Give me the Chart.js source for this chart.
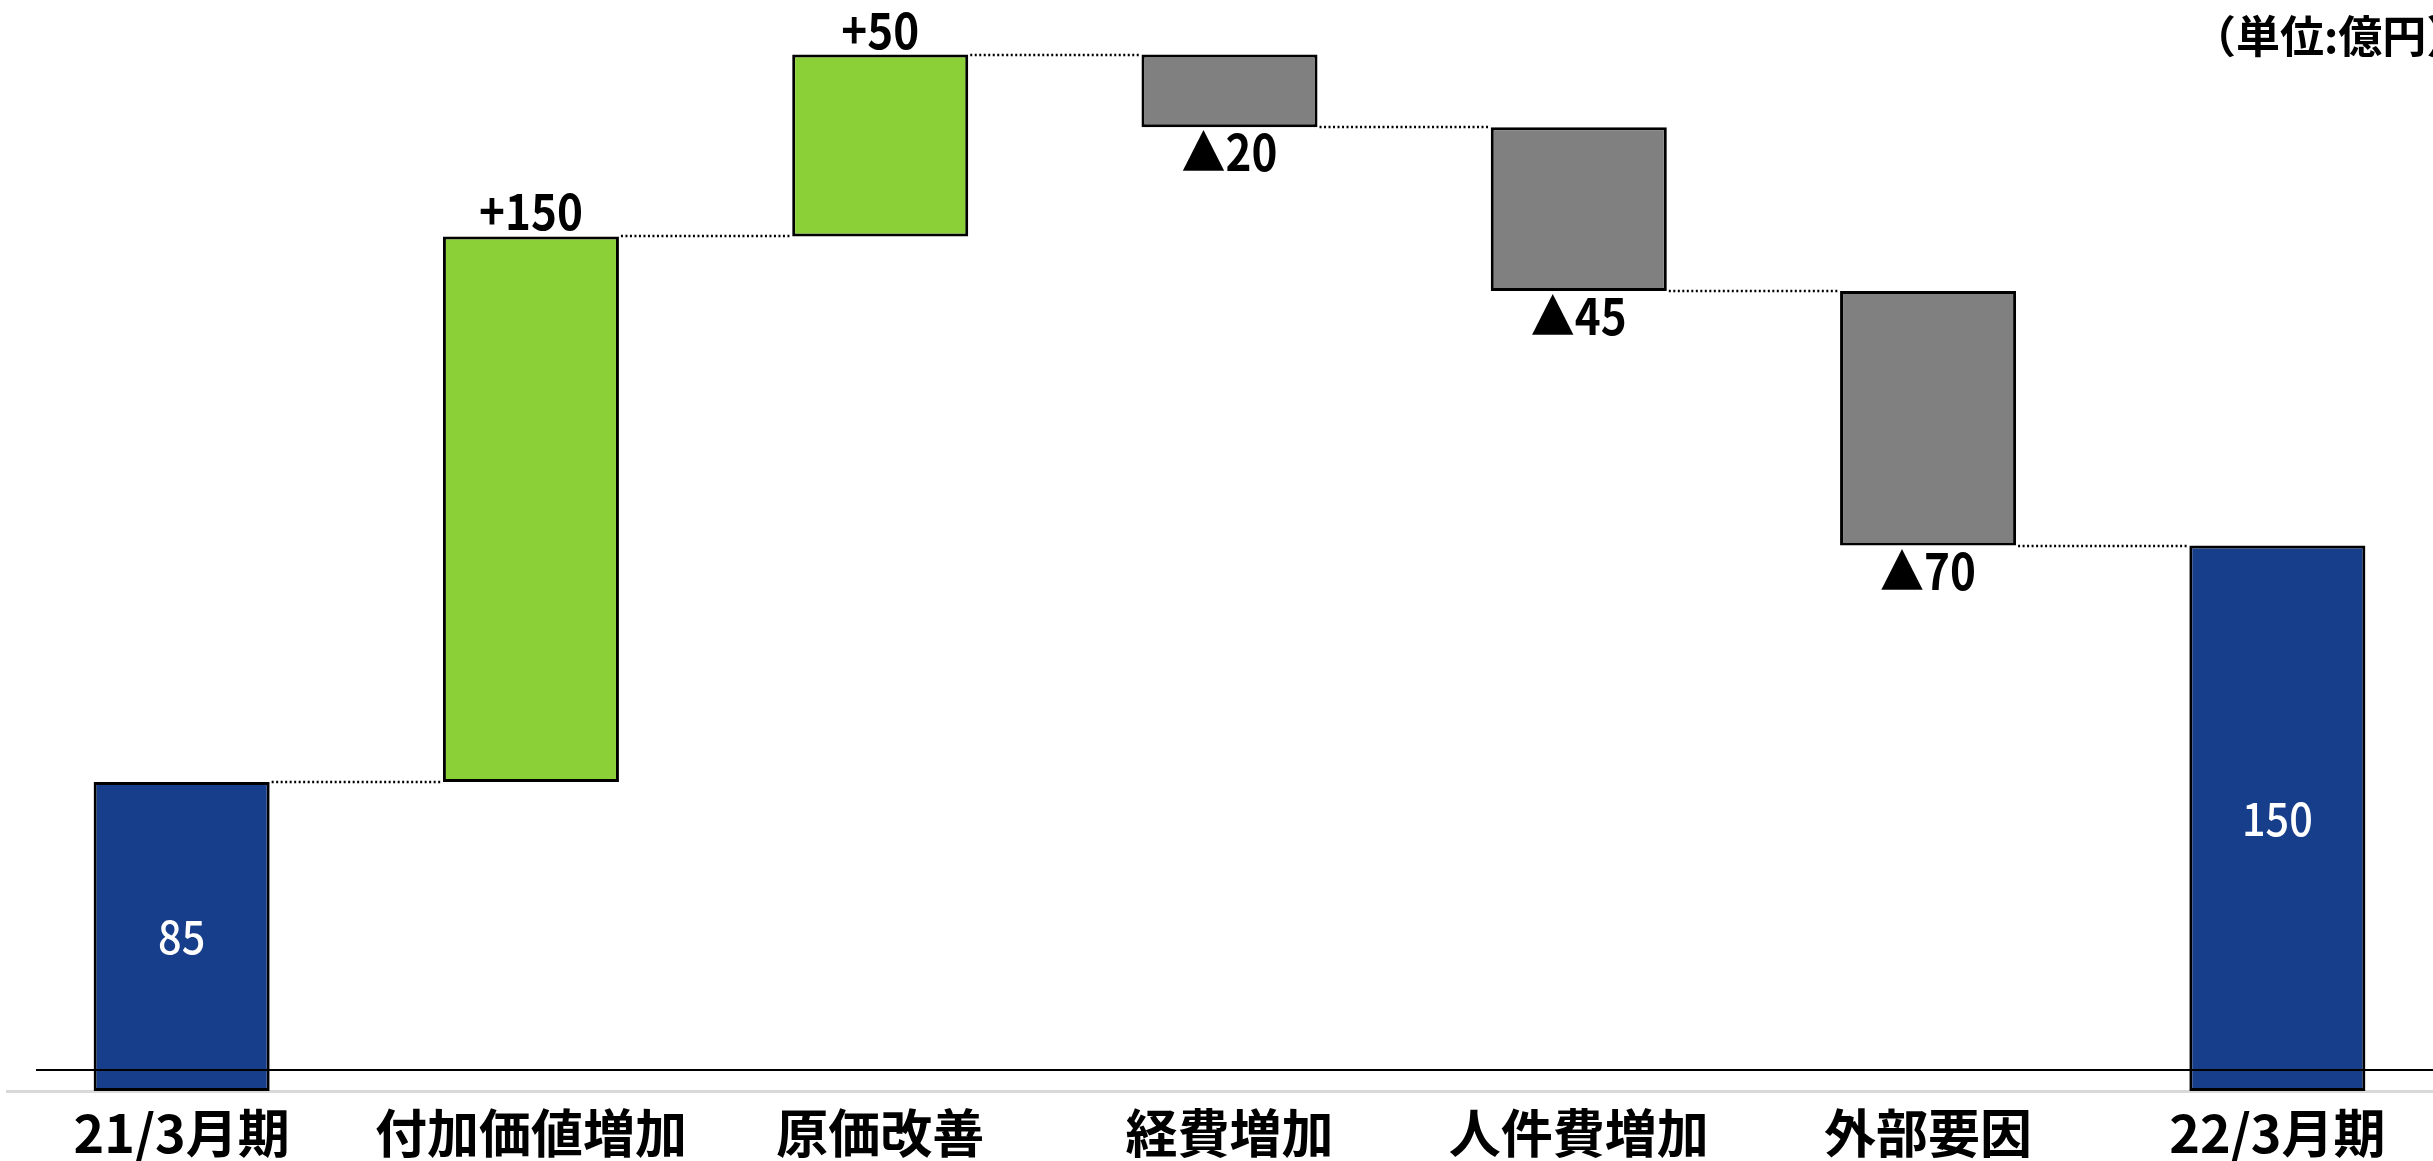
<!DOCTYPE html>
<html>
<head>
<meta charset="utf-8">
<script src="https://cdn.jsdelivr.net/npm/chart.js@4.4.0/dist/chart.umd.min.js"></script>
<style>
html, body { margin: 0; padding: 0; overflow: hidden; background: #fff; }
#wrap { width: 2452px; height: 1161px; }
</style>
</head>
<body>
<div id="wrap"><canvas id="myChart" width="2452" height="1161"></canvas></div>
<script>
// 営業利益の増減要因 (単位:億円)
var categories = ['21/3月期', '付加価値増加', '原価改善', '経費増加', '人件費増加', '外部要因', '22/3月期'];
var changes = [85, 150, 50, -20, -45, -70, 150];
var barKinds = ['total', 'up', 'up', 'down', 'down', 'down', 'total'];
var kindColors = { total: '#173E8A', up: '#8BD036', down: '#808080' };
var unitLabel = '（単位:億円）';

// floating bars [start, end] from the changes
var ranges = [];
var levels = [];
var running = 0;
for (var i = 0; i < changes.length; i++) {
    if (barKinds[i] === 'total') {
        ranges.push([0, changes[i]]);
        running = changes[i];
    } else {
        ranges.push([running, running + changes[i]]);
        running += changes[i];
    }
    levels.push(running);
}
var barColors = barKinds.map(function (k) { return kindColors[k]; });

function labelText(i) {
    var v = changes[i];
    if (barKinds[i] === 'total') return String(v);
    if (v > 0) return '+' + v;
    return '▲' + Math.abs(v);
}

// narrow text like the original gothic font
function drawNarrow(ctx, txt, x, y, squeeze) {
    ctx.save();
    ctx.translate(x, y);
    ctx.scale(squeeze, 1);
    ctx.fillText(txt, 0, 0);
    ctx.restore();
}

var waterfallExtras = {
    id: 'waterfallExtras',
    afterDatasetsDraw: function (chart) {
        var ctx = chart.ctx;
        var meta = chart.getDatasetMeta(0);
        var yScale = chart.scales.y;
        var area = chart.chartArea;

        ctx.save();

        // dotted connectors
        ctx.strokeStyle = '#000';
        ctx.lineWidth = 2.5;
        ctx.setLineDash([2, 2.5]);
        for (var i = 0; i < meta.data.length - 1; i++) {
            var a = meta.data[i], b = meta.data[i + 1];
            var y = Math.round(yScale.getPixelForValue(levels[i]));
            ctx.beginPath();
            ctx.moveTo(a.x + a.width / 2 + 2, y);
            ctx.lineTo(b.x - b.width / 2 - 1, y);
            ctx.stroke();
        }
        ctx.setLineDash([]);

        // base line over the bars
        ctx.strokeStyle = '#000';
        ctx.lineWidth = 2;
        ctx.beginPath();
        ctx.moveTo(36, area.bottom - 21);
        ctx.lineTo(chart.width, area.bottom - 21);
        ctx.stroke();

        // value labels
        ctx.textAlign = 'center';
        ctx.textBaseline = 'alphabetic';
        for (var j = 0; j < meta.data.length; j++) {
            var bar = meta.data[j];
            var top = Math.min(bar.y, bar.base);
            var bottom = Math.max(bar.y, bar.base);
            var txt = labelText(j);
            if (barKinds[j] === 'total') {
                ctx.fillStyle = '#fff';
                ctx.font = '500 46px "Noto Sans CJK JP", sans-serif';
                drawNarrow(ctx, txt, bar.x, (top + bottom) / 2 + 18, 0.9);
            } else if (barKinds[j] === 'up') {
                ctx.fillStyle = '#000';
                ctx.font = 'bold 50px "Noto Sans CJK JP", sans-serif';
                drawNarrow(ctx, txt, bar.x, top - 6, 0.88);
            } else {
                ctx.fillStyle = '#000';
                ctx.font = 'bold 50px "Noto Sans CJK JP", sans-serif';
                drawNarrow(ctx, txt, bar.x, bottom + 44, 0.88);
            }
        }

        // unit note
        ctx.fillStyle = '#000';
        ctx.textAlign = 'left';
        ctx.textBaseline = 'middle';
        ctx.font = 'bold 44px "Noto Sans CJK JP", sans-serif';
        ctx.fillText(unitLabel, 2192, 36);

        ctx.restore();
    }
};

var ctx = document.getElementById('myChart').getContext('2d');
var myChart = new Chart(ctx, {
    type: 'bar',
    data: {
        labels: categories,
        datasets: [{
            data: ranges,
            backgroundColor: barColors,
            borderColor: '#000',
            borderWidth: 3,
            borderSkipped: false,
            barPercentage: 0.504,
            categoryPercentage: 1
        }]
    },
    options: {
        responsive: false,
        animation: false,
        layout: { padding: { left: 7, right: 0, top: 0, bottom: 0 } },
        plugins: {
            legend: { display: false },
            tooltip: { enabled: false }
        },
        scales: {
            x: {
                grid: { display: false },
                border: { display: true, color: '#d9d9d9', width: 3 },
                ticks: {
                    color: '#000',
                    padding: 3,
                    font: { family: '"Noto Sans CJK JP", sans-serif', size: 52, weight: 'bold' }
                },
                afterFit: function (scale) { scale.height = 70; }
            },
            y: {
                display: false,
                min: 0,
                max: 300
            }
        }
    },
    plugins: [waterfallExtras]
});
</script>
</body>
</html>
